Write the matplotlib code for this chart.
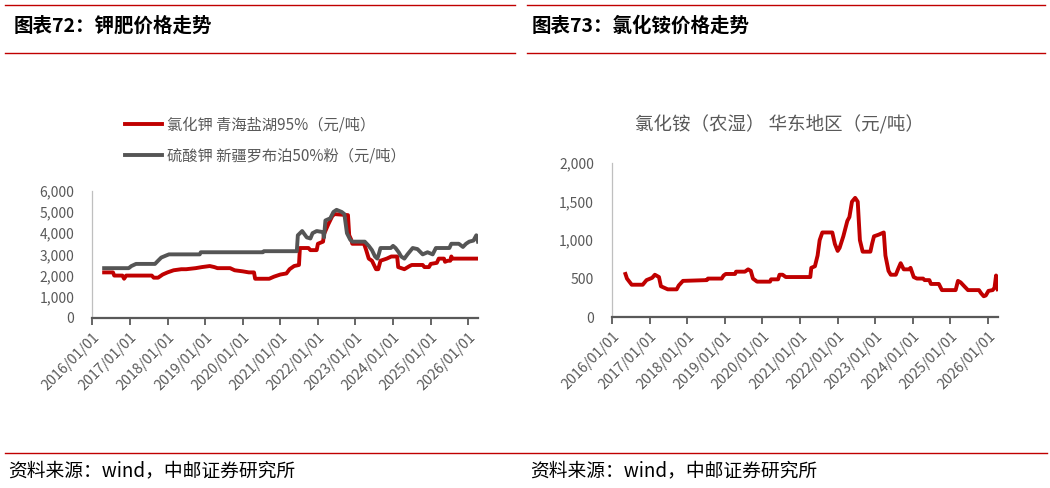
import matplotlib
matplotlib.use("Agg")
import matplotlib.pyplot as plt
import matplotlib.dates as mdates
from matplotlib.lines import Line2D
from matplotlib.ticker import FuncFormatter, MultipleLocator
import pandas as pd

plt.rcParams['font.family'] = ['Noto Sans CJK SC', 'DejaVu Sans']

# 氯化钾 青海盐湖95%
kcl_dates = ['2016-04-25', '2016-07-20', '2016-08-01', '2016-10-20', '2016-11-05', '2016-11-25',
             '2017-08-01', '2017-08-20', '2017-10-01', '2017-11-15', '2018-01-01', '2018-03-01',
             '2018-05-15', '2018-07-01', '2018-10-01', '2018-12-01', '2019-02-15', '2019-04-01',
             '2019-05-01', '2019-09-01', '2019-10-15', '2020-01-01', '2020-03-01', '2020-04-20',
             '2020-05-01', '2020-09-15', '2020-11-01', '2021-01-01', '2021-03-01', '2021-04-01',
             '2021-05-15', '2021-07-01', '2021-07-10', '2021-10-01', '2021-10-20', '2021-12-20',
             '2022-01-01', '2022-02-20', '2022-03-01', '2022-04-10', '2022-05-20', '2022-06-10',
             '2022-10-20', '2022-11-01', '2022-11-20', '2022-12-01', '2023-03-25', '2023-04-15',
             '2023-05-10', '2023-06-10', '2023-07-20', '2023-08-10', '2023-09-01', '2023-11-01',
             '2023-12-15', '2024-02-10', '2024-02-20', '2024-04-20', '2024-06-10', '2024-07-01',
             '2024-10-15', '2024-11-01', '2024-12-15', '2025-01-01', '2025-03-01', '2025-03-20',
             '2025-05-10', '2025-05-20', '2025-06-15', '2025-07-10', '2025-07-20', '2025-08-01',
             '2026-04-05']
kcl_vals = [2150, 2150, 2000, 2000, 1850, 2000,
            2000, 1900, 1900, 2050, 2150, 2250,
            2300, 2300, 2350, 2400, 2450, 2400,
            2350, 2350, 2250, 2200, 2150, 2150,
            1850, 1850, 1950, 2050, 2100, 2300,
            2450, 2500, 3300, 3300, 3200, 3200,
            3500, 3600, 3950, 4400, 4800, 4900,
            4850, 3900, 3700, 3500, 3500, 3200,
            2800, 2700, 2300, 2300, 2700, 2800,
            2900, 2900, 2400, 2300, 2450, 2500,
            2500, 2400, 2400, 2550, 2600, 2800,
            2800, 2650, 2700, 2700, 2900, 2800,
            2800]

# 硫酸钾 新疆罗布泊50%粉
k2so4_dates = ['2016-04-25', '2016-12-20', '2017-01-15', '2017-03-01', '2017-09-01', '2017-10-01',
               '2017-11-01', '2017-12-20', '2018-01-15', '2018-11-10', '2018-11-20', '2020-07-15',
               '2020-07-25', '2021-06-10', '2021-06-20', '2021-08-01', '2021-09-15', '2021-10-20',
               '2021-11-10', '2021-12-20', '2022-02-20', '2022-03-01', '2022-03-15', '2022-05-01',
               '2022-06-01', '2022-07-01', '2022-08-20', '2022-09-15', '2022-10-10', '2022-11-10',
               '2022-12-01', '2023-04-01', '2023-05-10', '2023-06-10', '2023-07-10', '2023-08-01',
               '2023-08-15', '2023-09-01', '2023-12-10', '2024-01-01', '2024-01-25', '2024-02-25',
               '2024-03-20', '2024-04-20', '2024-05-20', '2024-07-10', '2024-08-25', '2024-10-15',
               '2024-12-01', '2025-01-20', '2025-02-20', '2025-07-01', '2025-07-20', '2025-10-01',
               '2025-11-10', '2025-12-10', '2026-01-10', '2026-02-20', '2026-03-20', '2026-04-05']
k2so4_vals = [2350, 2350, 2450, 2550, 2550, 2700,
              2850, 2950, 3000, 3000, 3100, 3100,
              3150, 3150, 3900, 4100, 3800, 3750,
              4000, 4100, 4050, 3800, 4600, 4700,
              5000, 5100, 5000, 4900, 4000, 3700,
              3600, 3600, 3400, 3200, 2900, 2800,
              3000, 3300, 3300, 3400, 3300, 3100,
              2900, 2800, 3000, 3300, 3250, 3000,
              3100, 3000, 3300, 3300, 3500, 3500,
              3350, 3500, 3600, 3650, 3900, 3600]

# 氯化铵（农湿） 华东地区
nh4cl_dates = ['2016-05-10', '2016-05-25', '2016-07-10', '2016-10-25', '2016-12-01', '2017-01-25',
               '2017-02-20', '2017-04-01', '2017-04-20', '2017-06-25', '2017-09-20', '2017-10-10',
               '2017-11-20', '2018-07-10', '2018-07-20', '2018-12-01', '2018-12-20', '2019-01-10',
               '2019-04-10', '2019-04-20', '2019-07-15', '2019-08-15', '2019-09-10', '2019-10-01',
               '2019-11-10', '2020-03-15', '2020-03-25', '2020-06-01', '2020-06-15', '2020-07-15',
               '2020-08-15', '2021-04-10', '2021-04-20', '2021-05-25', '2021-06-20', '2021-07-10',
               '2021-08-05', '2021-11-10', '2021-12-05', '2022-01-01', '2022-01-20', '2022-02-25',
               '2022-04-05', '2022-04-25', '2022-05-20', '2022-06-20', '2022-07-15', '2022-08-05',
               '2022-09-01', '2022-11-15', '2022-12-01', '2022-12-20', '2023-02-01', '2023-03-25',
               '2023-04-10', '2023-05-10', '2023-06-01', '2023-07-20', '2023-08-10', '2023-09-05',
               '2023-10-05', '2023-11-25', '2023-12-10', '2024-01-10', '2024-02-10', '2024-04-10',
               '2024-04-25', '2024-06-10', '2024-06-25', '2024-09-10', '2024-10-10', '2025-02-20',
               '2025-03-15', '2025-04-10', '2025-05-15', '2025-06-20', '2025-10-05', '2025-10-25',
               '2025-11-20', '2025-12-10', '2026-01-05', '2026-02-15', '2026-03-05', '2026-03-20',
               '2026-04-05']
nh4cl_vals = [560, 500, 420, 420, 480, 510,
              550, 520, 400, 360, 360, 410,
              470, 480, 500, 500, 540, 560,
              560, 590, 590, 620, 600, 500,
              460, 460, 490, 490, 550, 550,
              520, 520, 640, 660, 800, 1000,
              1100, 1100, 950, 860, 900, 1050,
              1250, 1300, 1500, 1550, 1500, 1000,
              850, 850, 950, 1050, 1070, 1100,
              800, 600, 550, 550, 620, 700,
              620, 620, 640, 520, 500, 500,
              480, 480, 430, 430, 350, 350,
              470, 450, 400, 350, 350, 310,
              270, 280, 340, 350, 380, 540,
              360]

RED = '#c00000'
GRAY = '#555555'
TXT = '#595959'
x_start = pd.Timestamp('2016-01-01')
x_end = pd.Timestamp('2026-04-08')


def style_axis(ax, ymax, step):
    ax.set_xlim(x_start, x_end)
    ax.set_ylim(0, ymax)
    ax.yaxis.set_major_locator(MultipleLocator(step))
    ax.yaxis.set_major_formatter(FuncFormatter(lambda v, p: f'{v:,.0f}'))
    ax.xaxis.set_major_locator(mdates.YearLocator())
    ax.xaxis.set_major_formatter(mdates.DateFormatter('%Y/%m/%d'))
    for s in ['top', 'right']:
        ax.spines[s].set_visible(False)
    ax.spines['left'].set_color('#bfbfbf')
    ax.spines['left'].set_linewidth(0.9)
    ax.spines['bottom'].set_color(TXT)
    ax.spines['bottom'].set_linewidth(1.6)
    ax.tick_params(axis='y', length=0, pad=13, labelsize=10, labelcolor=TXT)
    ax.tick_params(axis='x', length=5, width=1.3, color=TXT, direction='out',
                   pad=4, labelsize=10.3, labelcolor=TXT)
    for lb in ax.get_xticklabels():
        lb.set_rotation(45)
        lb.set_rotation_mode('anchor')
        lb.set_ha('right')
        lb.set_va('top')


fig = plt.figure(figsize=(10.5, 4.88), dpi=100)

# left panel: potash
ax1 = fig.add_axes([0.0879, 0.3484, 0.3676, 0.2607])
ax1.plot(pd.to_datetime(kcl_dates), kcl_vals, color=RED, lw=2.8,
         label='氯化钾 青海盐湖95%（元/吨）', solid_joinstyle='round')
ax1.plot(pd.to_datetime(k2so4_dates), k2so4_vals, color=GRAY, lw=2.8,
         label='硫酸钾 新疆罗布泊50%粉（元/吨）', solid_joinstyle='round')
style_axis(ax1, 6000, 1000)
fig.legend(loc='upper left', bbox_to_anchor=(0.106, 0.79), frameon=False,
           fontsize=11, handlelength=2.45, handletextpad=0.3, labelspacing=0.95,
           labelcolor=TXT)

# right panel: ammonium chloride
ax2 = fig.add_axes([0.5829, 0.3504, 0.3676, 0.3150])
ax2.plot(pd.to_datetime(nh4cl_dates), nh4cl_vals, color=RED, lw=2.8,
         solid_joinstyle='round')
style_axis(ax2, 2000, 500)
fig.text(779 / 1050, 1 - 125 / 488, '氯化铵（农湿） 华东地区（元/吨）',
         ha='center', va='center', fontsize=13.3, color=TXT)

# frame lines and headers
for x0, x1 in [(5, 515), (527, 1045)]:
    for yy in [5, 53]:
        fig.add_artist(Line2D([x0 / 1050, x1 / 1050], [1 - yy / 488] * 2,
                              color=RED, lw=1.0))
fig.add_artist(Line2D([5 / 1050, 1047 / 1050], [1 - 453 / 488] * 2, color=RED, lw=1.0))

fig.text(14 / 1050, 1 - 26 / 488, '图表72：钾肥价格走势', fontsize=14,
         fontweight='bold', va='center', ha='left')
fig.text(532 / 1050, 1 - 26 / 488, '图表73：氯化铵价格走势', fontsize=14,
         fontweight='bold', va='center', ha='left')
fig.text(8 / 1050, 1 - 471 / 488, '资料来源：wind，中邮证券研究所', fontsize=13.5,
         va='center', ha='left')
fig.text(530 / 1050, 1 - 471 / 488, '资料来源：wind，中邮证券研究所', fontsize=13.5,
         va='center', ha='left')

fig.savefig('out.png', dpi=100)
